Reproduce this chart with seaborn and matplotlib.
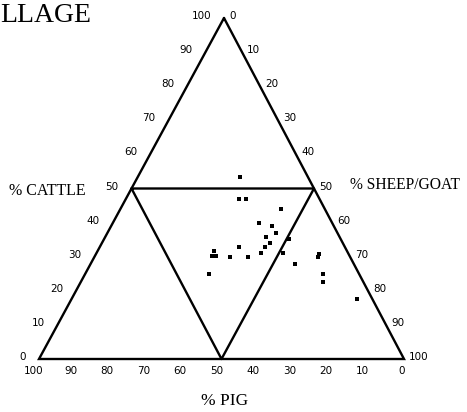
import numpy as np
import pandas as pd
import matplotlib
matplotlib.use("Agg")
import matplotlib.pyplot as plt
import seaborn as sns

# ---- data (percentages) ----
cattle = [53.3, 46.9, 46.9, 43.9, 40.0, 39.0, 37.0, 35.9, 33.9, 32.8,
          32.8, 31.0, 29.8, 29.8, 31.8, 30.1, 30.2, 35.2, 31.0, 27.9,
          29.8, 30.8, 24.9, 22.7, 24.9, 17.6]
sheep = [28.1, 31.1, 33.0, 44.1, 40.1, 44.1, 46.2, 44.1, 46.0, 45.2,
         38.2, 45.1, 37.1, 42.1, 31.9, 32.2, 33.1, 50.7, 51.0, 56.1,
         61.2, 61.2, 65.1, 66.2, 33.9, 78.3]
pig = [round(100 - c - s, 1) for c, s in zip(cattle, sheep)]

axis_ticks = [0, 10, 20, 30, 40, 50, 60, 70, 80, 90, 100]
title_text = "LLAGE"
label_cattle = "% CATTLE"
label_sheep = "% SHEEP/GOAT"
label_pig = "% PIG"

# ---- layout (pixel space of a 467x412 figure) ----
W, H = 467, 412
TOP = np.array([224.0, 18.0])     # 100% cattle
BL = np.array([39.0, 359.0])      # 100% pig
BR = np.array([404.0, 359.0])     # 100% sheep/goat


def tern(c, s, p):
    c, s, p = np.asarray(c) / 100, np.asarray(s) / 100, np.asarray(p) / 100
    x = c * TOP[0] + s * BR[0] + p * BL[0]
    y = c * TOP[1] + s * BR[1] + p * BL[1]
    return x, y


sns.set_style("white")
fig = plt.figure(figsize=(W / 100, H / 100), dpi=100)
ax = fig.add_axes([0, 0, 1, 1])

lw = 1.7
# outer triangle
tx = [TOP[0], BR[0], BL[0], TOP[0]]
ty = [TOP[1], BR[1], BL[1], TOP[1]]
ax.plot(tx, ty, color="black", lw=lw, solid_joinstyle="miter")
# inner triangle (midpoints)
mL = tern(50, 0, 50)
mR = tern(50, 50, 0)
mB = tern(0, 50, 50)
ax.plot([mL[0], mR[0], mB[0], mL[0]], [mL[1], mR[1], mB[1], mL[1]],
        color="black", lw=lw)

# points
px, py = tern(cattle, sheep, pig)
df = pd.DataFrame({"x": px, "y": py})
sns.scatterplot(data=df, x="x", y="y", marker="s", color="black", s=8,
                linewidth=0, ax=ax, legend=False)
ax.set_xlim(0, W)
ax.set_ylim(H, 0)
ax.axis("off")

tick_font = dict(family="DejaVu Sans", fontsize=7.5, color="black")
# cattle ticks (left edge, 0 at bottom-left, 100 at top)
for v in axis_ticks:
    x, y = tern(v, 0, 100 - v)
    ax.text(x - 13, y - 2, str(v), ha="right", va="center", **tick_font)
# sheep/goat ticks (right edge, 0 at top, 100 at bottom-right)
for v in axis_ticks:
    x, y = tern(100 - v, v, 0)
    ax.text(x + 5, y - 2, str(v), ha="left", va="center", **tick_font)
# pig ticks (bottom, 100 at left, 0 at right)
for v in axis_ticks:
    if v == 0:
        continue
    x, y = tern(0, 100 - v, v)
    ax.text(x - 5, 371, str(v), ha="center", va="center", **tick_font)
x0, _ = tern(0, 100, 0)
ax.text(x0 - 2, 371, "0", ha="center", va="center", **tick_font)

serif = dict(family="Liberation Serif", color="black")
ax.text(47, 191, label_cattle, ha="center", va="center", fontsize=11.5, **serif)
ax.text(350, 185, label_sheep, ha="left", va="center", fontsize=11.2, **serif)
ax.text(225, 401, label_pig, ha="center", va="center", fontsize=12.5, **serif)
ax.text(0.5, 22, title_text, ha="left", va="baseline", fontsize=20, **serif)

fig.savefig("out.png", dpi=100, facecolor="white")
